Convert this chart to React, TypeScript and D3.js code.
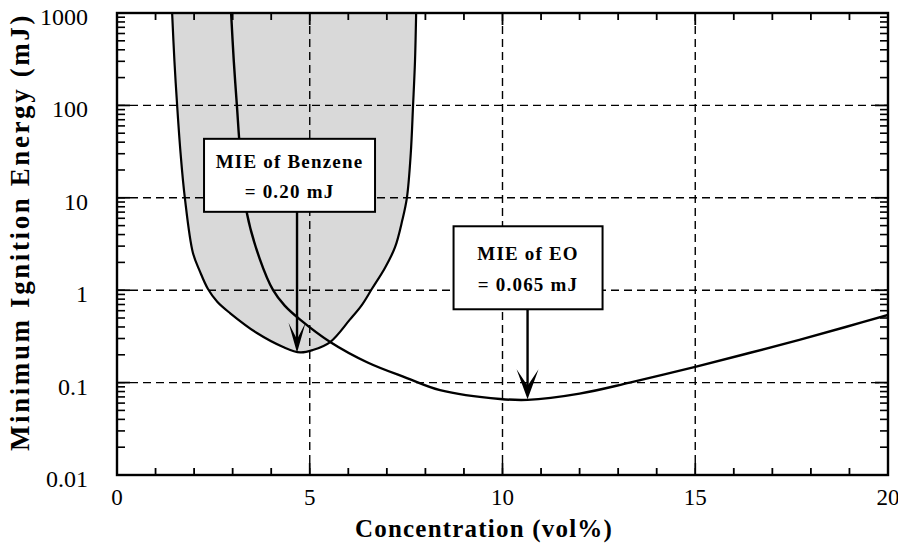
import React from 'react';
import * as d3 from 'd3';

// ---- data ----
const xTickValues = [0, 5, 10, 15, 20];
const xTickLabels = ['0', '5', '10', '15', '20'];
const yTickValues = [0.01, 0.1, 1, 10, 100, 1000];
const yTickLabels = ['0.01', '0.1', '1', '10', '100', '1000'];

// Benzene flammable (ignitable) region boundary, left top -> bottom -> right top
const benzeneX = [1.43, 1.49, 1.56, 1.65, 1.76, 1.97, 2.15, 2.36, 2.6, 2.93, 3.63, 4.31, 4.75, 5.08, 5.53, 6.04, 6.35, 6.61, 6.95, 7.21, 7.4, 7.52, 7.62, 7.68, 7.73, 7.76];
const benzeneY = [1000, 300, 100, 30, 10, 2.53, 1.6, 1.03, 0.75, 0.566, 0.344, 0.243, 0.212, 0.225, 0.275, 0.48, 0.69, 1.03, 1.74, 2.9, 5.7, 10, 30, 100, 300, 1000];

// Ethylene oxide MIE curve
const eoX = [2.96, 3.03, 3.11, 3.2, 3.37, 3.7, 4.05, 4.35, 4.75, 5.53, 6.5, 7.52, 8.38, 9.94, 10.65, 12.0, 13.3, 15.0, 16.4, 17.7, 18.9, 20.0];
const eoY = [1000, 300, 100, 30, 6.8, 2.2, 1, 0.68, 0.48, 0.275, 0.165, 0.112, 0.083, 0.0665, 0.065, 0.076, 0.1, 0.148, 0.209, 0.29, 0.4, 0.54];

const annotX = [4.67, 10.65];
const annotY = [0.21, 0.066];
const annotLine1 = ['MIE of Benzene', 'MIE of EO'];
const annotLine2 = ['= 0.20 mJ', '= 0.065 mJ'];

// ---- layout ----
const W = 898, H = 546;
const L = 117, R = 888, T = 13, B = 475;
const boxLayout = [
  { left: -93, right: 78, top: -214, bottom: -141, l1: 29, l2: 59, head: 17 },
  { left: -74, right: 75, top: -173, bottom: -90, l1: 34, l2: 65, head: 22 },
];
const FONT = '"Liberation Serif", "Times New Roman", Times, serif';

export default function App() {
  const x = d3.scaleLinear().domain([0, 20]).range([L, R]);
  const y = d3.scaleLog().domain([0.01, 1000]).range([B, T]);

  const benzPts: [number, number][] = benzeneX.map((v, i) => [x(v), y(benzeneY[i])]);
  const eoPts: [number, number][] = eoX.map((v, i) => [x(v), y(eoY[i])]);
  const line = d3.line().curve(d3.curveCatmullRom.alpha(0.5));
  const benzPath = line(benzPts) || '';
  const eoPath = line(eoPts) || '';

  const xMinor: number[] = d3.range(1, 20).filter((v) => v % 5 !== 0);
  const yMinor: number[] = [];
  [0.01, 0.1, 1, 10, 100].forEach((d) => {
    for (let k = 2; k <= 9; k++) yMinor.push(d * k);
  });
  const gridX = [5, 10, 15];
  const gridY = [0.1, 1, 10, 100];

  const dash = '8,5';

  return (
    <svg width={W} height={H} style={{ position: 'absolute', left: 0, top: 0, background: '#fff' }}>
      <defs>
        <clipPath id="plot">
          <rect x={L} y={T} width={R - L} height={B - T} />
        </clipPath>
      </defs>
      <rect x={0} y={0} width={W} height={H} fill="#fff" />
      <g clipPath="url(#plot)">
        <path d={benzPath + 'Z'} fill="#d9d9d9" stroke="none" />
        {gridX.map((v) => (
          <line key={'gx' + v} x1={x(v)} x2={x(v)} y1={T} y2={B} stroke="#000" strokeWidth={1.4} strokeDasharray={dash} />
        ))}
        {gridY.map((v) => (
          <line key={'gy' + v} x1={L} x2={R} y1={y(v)} y2={y(v)} stroke="#000" strokeWidth={1.4} strokeDasharray={dash} />
        ))}
        <path d={benzPath} fill="none" stroke="#000" strokeWidth={2.2} />
        <path d={eoPath} fill="none" stroke="#000" strokeWidth={2.4} />
      </g>

      {/* ticks */}
      {xMinor.map((v) => (
        <g key={'xm' + v}>
          <line x1={x(v)} x2={x(v)} y1={B} y2={B - 7} stroke="#000" strokeWidth={1.8} />
          <line x1={x(v)} x2={x(v)} y1={T} y2={T + 7} stroke="#000" strokeWidth={1.8} />
        </g>
      ))}
      {gridX.map((v) => (
        <g key={'xM' + v}>
          <line x1={x(v)} x2={x(v)} y1={B} y2={B - 12} stroke="#000" strokeWidth={1.8} />
          <line x1={x(v)} x2={x(v)} y1={T} y2={T + 12} stroke="#000" strokeWidth={1.8} />
        </g>
      ))}
      {yMinor.map((v) => (
        <g key={'ym' + v}>
          <line x1={L} x2={L + 8} y1={y(v)} y2={y(v)} stroke="#000" strokeWidth={1.6} />
          <line x1={R} x2={R - 8} y1={y(v)} y2={y(v)} stroke="#000" strokeWidth={1.6} />
        </g>
      ))}
      {gridY.map((v) => (
        <g key={'yM' + v}>
          <line x1={L} x2={L + 13} y1={y(v)} y2={y(v)} stroke="#000" strokeWidth={1.8} />
          <line x1={R} x2={R - 13} y1={y(v)} y2={y(v)} stroke="#000" strokeWidth={1.8} />
        </g>
      ))}
      <rect x={L} y={T} width={R - L} height={B - T} fill="none" stroke="#000" strokeWidth={2.4} />

      {/* annotations */}
      {annotX.map((ax, i) => {
        const lay = boxLayout[i];
        const px = x(ax);
        const tip = y(annotY[i]);
        const bx0 = px + lay.left, bx1 = px + lay.right;
        const by0 = tip + lay.top, by1 = tip + lay.bottom;
        const cx = (bx0 + bx1) / 2;
        const hw = lay.head / 2;
        const hl = 30;
        return (
          <g key={'ann' + i}>
            <line x1={px} x2={px} y1={by1} y2={tip - 12} stroke="#000" strokeWidth={2.4} />
            <path
              d={`M${px},${tip} L${px - hw},${tip - hl} L${px},${tip - hl * 0.45} L${px + hw},${tip - hl} Z`}
              fill="#000"
            />
            <rect x={bx0} y={by0} width={bx1 - bx0} height={by1 - by0} fill="#fff" stroke="#000" strokeWidth={2} />
            <text x={cx} y={by0 + lay.l1} textAnchor="middle" fontFamily={FONT} fontWeight="bold" fontSize={19} letterSpacing={1.2}>
              {annotLine1[i]}
            </text>
            <text x={cx} y={by0 + lay.l2} textAnchor="middle" fontFamily={FONT} fontWeight="bold" fontSize={19} letterSpacing={1.2}>
              {annotLine2[i]}
            </text>
          </g>
        );
      })}

      {/* tick labels */}
      {xTickValues.map((v, i) => (
        <text key={'xl' + v} x={x(v)} y={505} textAnchor="middle" fontFamily={FONT} fontSize={23}>
          {xTickLabels[i]}
        </text>
      ))}
      {yTickValues.map((v, i) => (
        <text key={'yl' + v} x={88} y={y(v) + 12} textAnchor="end" fontFamily={FONT} fontSize={24}>
          {yTickLabels[i]}
        </text>
      ))}

      {/* axis titles */}
      <text x={484} y={537} textAnchor="middle" fontFamily={FONT} fontWeight="bold" fontSize={25} letterSpacing={1.2}>
        Concentration (vol%)
      </text>
      <text
        transform={`translate(29,${232}) rotate(-90)`}
        textAnchor="middle"
        fontFamily={FONT}
        fontWeight="bold"
        fontSize={27}
        letterSpacing={2.6}
      >
        Minimum Ignition Energy (mJ)
      </text>
    </svg>
  );
}
